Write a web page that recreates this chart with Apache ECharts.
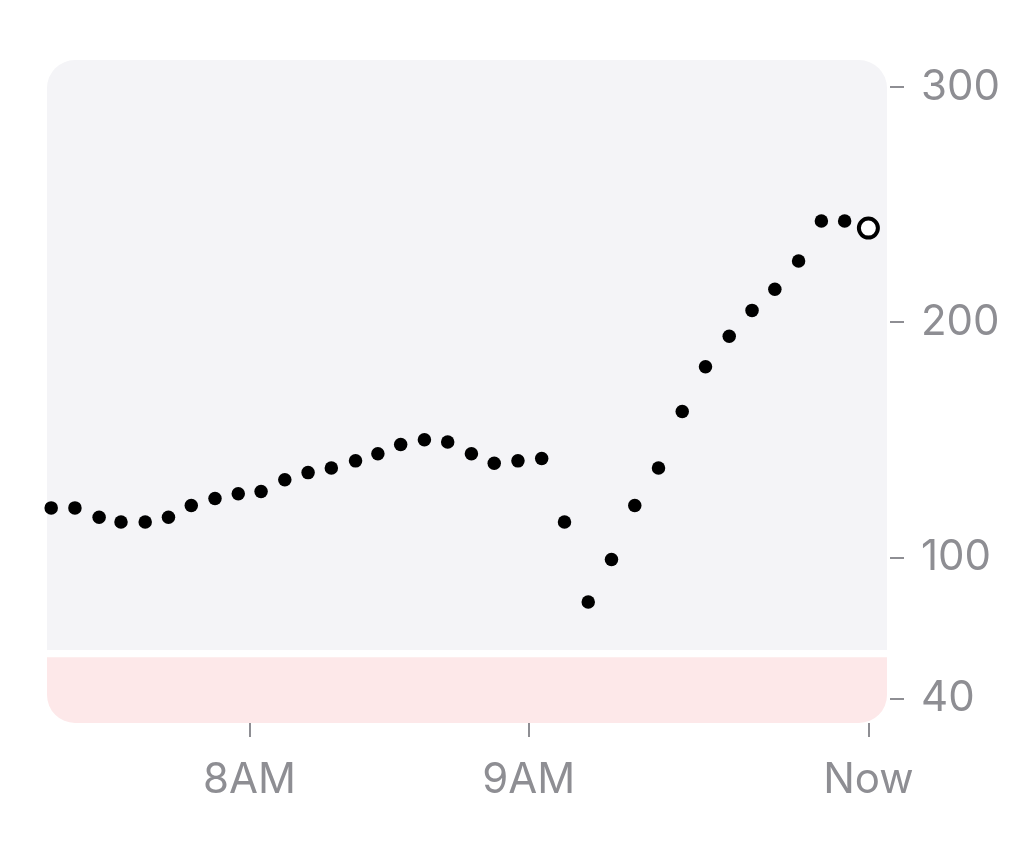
<!DOCTYPE html>
<html>
<head>
<meta charset="utf-8">
<script src="https://cdn.jsdelivr.net/npm/echarts@6/dist/echarts.min.js"></script>
<style>
html,body{margin:0;padding:0;background:#fff;}
#c{width:1024px;height:853px;}
</style>
</head>
<body>
<div id="c"></div>
<script>
// reading times, minutes relative to 8AM
const timeMinutes = [-42.6,-37.5,-32.3,-27.6,-22.4,-17.4,-12.5,-7.4,-2.4,2.5,7.6,12.6,17.6,22.8,27.6,32.5,37.6,42.6,47.7,52.6,57.7,62.8,67.7,72.8,77.8,82.8,87.9,93.0,98.0,103.1,108.0,112.9,118.0,122.9,127.9,133.0];
const glucoseValues = [121,121,117,115,115,117,122,125,127,128,133,136,138,141,144,148,150,149,144,140,141,142,115,81,99,122,138,162,181,194,205,214,226,243,243,240];
const xTickValues = [0, 60, 133];
const xTickLabels = ['8AM', '9AM', 'Now'];
const yTickValues = [40, 100, 200, 300];
const bandRanges = [[60.5, 311.5], [29.5, 57.5]]; // [low, high]
const bandColors = ['#f4f4f7', '#fde8e9'];

const X_MIN = -43.5, X_MAX = 137;
const Y_MIN = 29.5, Y_MAX = 311.5;

const pts = timeMinutes.map((t, i) => [t, glucoseValues[i]]);
const lastPt = [pts[pts.length - 1]];
const prevPts = pts.slice(0, pts.length - 1);

const chart = echarts.init(document.getElementById('c'));
const gray = '#8e8e93';
chart.setOption({
  animation: false,
  grid: {left: 47, right: 137, top: 60, bottom: 130},
  xAxis: {
    type: 'value', min: X_MIN, max: X_MAX,
    splitLine: {show: false},
    axisLine: {show: false, onZero: false},
    axisTick: {show: true, customValues: xTickValues, length: 14, lineStyle: {color: gray, width: 2}},
    axisLabel: {
      customValues: xTickValues, margin: 36,
      color: gray, fontSize: 42, fontFamily: 'Inter',
      formatter: v => xTickLabels[xTickValues.indexOf(v)]
    }
  },
  yAxis: {
    type: 'value', position: 'right', min: Y_MIN, max: Y_MAX, offset: 3,
    splitLine: {show: false},
    axisLine: {show: false, onZero: false},
    axisTick: {show: true, customValues: yTickValues, length: 14, lineStyle: {color: gray, width: 2}},
    axisLabel: {customValues: yTickValues, margin: 31, color: gray, fontSize: 42, fontFamily: 'Inter'}
  },
  series: [
    {
      type: 'custom',
      data: bandRanges.map((b, i) => [b[0], b[1], i]),
      z: 0,
      silent: true,
      renderItem: function (params, api) {
        const lo = api.value(0), hi = api.value(1), idx = api.value(2);
        const p1 = api.coord([X_MIN, hi]);
        const p2 = api.coord([X_MAX, lo]);
        const r = idx === 0 ? [28, 28, 0, 0] : [0, 0, 28, 28];
        return {
          type: 'rect',
          shape: {x: p1[0], y: p1[1], width: p2[0] - p1[0], height: p2[1] - p1[1], r: r},
          style: {fill: bandColors[idx]}
        };
      }
    },
    {
      type: 'scatter',
      data: prevPts,
      symbolSize: 13.5,
      itemStyle: {color: '#000', opacity: 1},
      z: 3
    },
    {
      type: 'scatter',
      data: lastPt,
      symbolSize: 19,
      itemStyle: {color: '#fff', borderColor: '#000', borderWidth: 4, opacity: 1},
      z: 4
    }
  ]
});
</script>
</body>
</html>
